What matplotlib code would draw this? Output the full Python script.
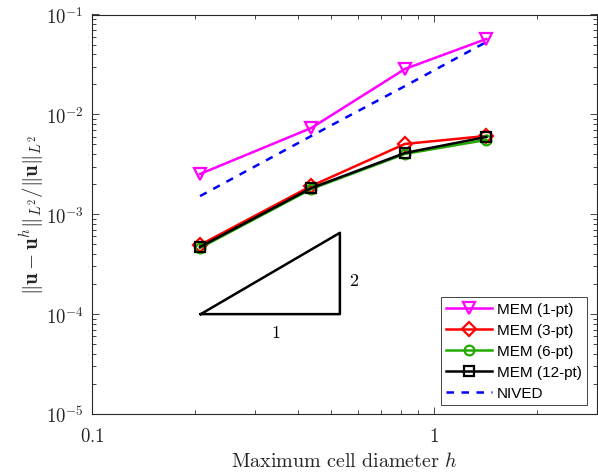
import matplotlib
matplotlib.use("Agg")
import matplotlib.pyplot as plt
from matplotlib.ticker import LogLocator, NullFormatter, FixedLocator

plt.rcParams['mathtext.fontset'] = 'cm'

h = [0.207, 0.438, 0.823, 1.424]
mem1 = [2.53e-3, 7.31e-3, 2.85e-2, 5.69e-2]
mem3 = [4.93e-4, 1.92e-3, 5.06e-3, 6.08e-3]
mem6 = [4.60e-4, 1.79e-3, 4.02e-3, 5.55e-3]
mem12 = [4.71e-4, 1.83e-3, 4.11e-3, 5.94e-3]
nived = [1.52e-3, 6.08e-3, 1.92e-2, 5.31e-2]
labels = ['MEM (1-pt)', 'MEM (3-pt)', 'MEM (6-pt)', 'MEM (12-pt)', 'NIVED']

tri_x = [0.208, 0.531, 0.531, 0.208]
tri_y = [1.0e-4, 1.0e-4, 6.52e-4, 1.0e-4]

fig = plt.figure(figsize=(5.98, 4.77), dpi=100)
ax = fig.add_axes([92/598, 1-415/477, (597-92)/598, (415-15.5)/477])

lw = 1.8
ms = 8
ax.plot(h, mem1, color='#ff00ff', lw=lw, marker='v', ms=ms+1, mfc='none', mew=1.6, label=labels[0])
ax.plot(h, mem3, color='#ff0000', lw=lw, marker='D', ms=ms-1, mfc='none', mew=1.6, label=labels[1])
ax.plot(h, mem6, color='#22aa00', lw=lw, marker='o', ms=ms-1, mfc='none', mew=1.6, label=labels[2])
ax.plot(h, mem12, color='black', lw=lw, marker='s', ms=ms-1, mfc='none', mew=1.6, label=labels[3])
ax.plot(h, nived, color='#0000ff', lw=lw, ls=(0, (3, 3)), label=labels[4])

ax.plot(tri_x, tri_y, color='black', lw=1.8)
ax.text(0.345, 6.6e-5, '$1$', fontsize=13, ha='center', va='center')
ax.text(0.585, 2.2e-4, '$2$', fontsize=13, ha='center', va='center')

ax.set_xscale('log')
ax.set_yscale('log')
ax.set_xlim(0.1, 3)
ax.set_ylim(1e-5, 1e-1)
ax.xaxis.set_major_locator(FixedLocator([0.1, 1]))
ax.set_xticklabels(['$0.1$', '$1$'])
ax.xaxis.set_minor_locator(LogLocator(base=10, subs=range(2, 10)))
ax.xaxis.set_minor_formatter(NullFormatter())
ax.yaxis.set_major_locator(FixedLocator([1e-5, 1e-4, 1e-3, 1e-2, 1e-1]))
ax.set_yticklabels(['$10^{-5}$', '$10^{-4}$', '$10^{-3}$', '$10^{-2}$', '$10^{-1}$'])
ax.yaxis.set_minor_locator(LogLocator(base=10, subs=range(2, 10)))
ax.yaxis.set_minor_formatter(NullFormatter())

gray = '#262626'
ax.tick_params(which='both', direction='in', top=True, right=True, colors=gray, labelsize=13.5)
ax.tick_params(which='major', length=5, width=0.6)
ax.tick_params(which='minor', length=3, width=0.6)
ax.tick_params(axis='x', which='major', pad=9)
ax.tick_params(axis='y', which='major', pad=6)
for s in ax.spines.values():
    s.set_color(gray)
    s.set_linewidth(0.8)

ax.set_xlabel(r'$\mathrm{Maximum\ cell\ diameter}\ h$', fontsize=14.5, color=gray, labelpad=4)
ax.set_ylabel(r'$\|\mathbf{u}-\mathbf{u}^h\|_{L^2}/\|\mathbf{u}\|_{L^2}$', fontsize=15, color=gray, labelpad=0)

leg = ax.legend(loc='lower right', bbox_to_anchor=(0.98, 0.022), borderaxespad=0,
                prop={'family': 'Liberation Sans', 'size': 11}, fancybox=False,
                framealpha=1, edgecolor=gray, handlelength=3.0, handletextpad=0.3,
                labelspacing=0.45, borderpad=0.35)
leg.get_frame().set_linewidth(0.6)

fig.savefig('out.png', dpi=100)
